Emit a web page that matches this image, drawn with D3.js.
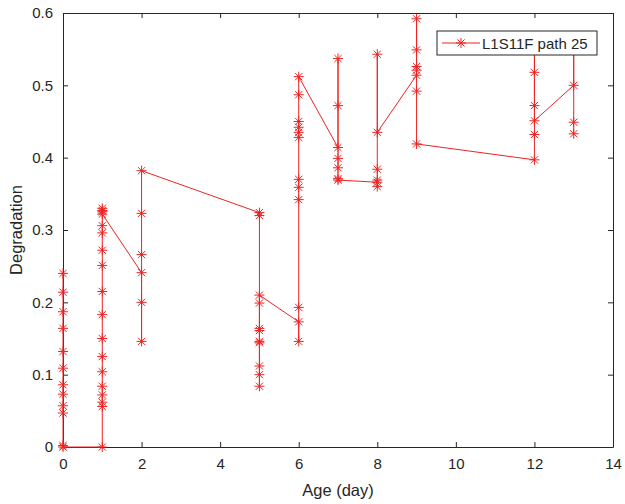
<!DOCTYPE html>
<html>
<head>
  <meta charset="utf-8">
  <title>L1S11F path 25</title>
  <script src="https://d3js.org/d3.v7.min.js"></script>
  <style>
    body { margin: 0; background: #fff; }
    text { font-family: "Liberation Sans", Arial, sans-serif; fill: #262626; }
  </style>
</head>
<body>
  <div id="chart"></div>
  <script>
    // measured points, in the order the path visits them
    var ageDays = [
      0, 0, 0, 0, 0, 0, 0, 0, 0, 0, 0, 0,
      1, 1, 1, 1, 1, 1, 1, 1, 1, 1, 1, 1, 1, 1, 1, 1, 1, 1,
      2, 2, 2, 2, 2, 2,
      5, 5, 5, 5, 5, 5, 5, 5, 5, 5, 5,
      6, 6, 6, 6, 6, 6, 6, 6, 6, 6, 6, 6,
      7, 7, 7, 7, 7, 7, 7,
      8, 8, 8, 8, 8, 8,
      9, 9, 9, 9, 9, 9, 9,
      12, 12, 12, 12, 12, 12,
      13, 13, 13, 13
    ];
    var degradation = [
      0.240, 0.214, 0.187, 0.164, 0.132, 0.109, 0.086, 0.073, 0.057, 0.047, 0.002, 0,
      0, 0.056, 0.062, 0.072, 0.084, 0.104, 0.125, 0.150, 0.183, 0.215, 0.251, 0.272, 0.296, 0.306, 0.330, 0.327, 0.325, 0.322,
      0.241, 0.146, 0.200, 0.266, 0.323, 0.382,
      0.324, 0.320, 0.084, 0.100, 0.112, 0.144, 0.146, 0.161, 0.164, 0.199, 0.210,
      0.173, 0.146, 0.193, 0.342, 0.359, 0.370, 0.428, 0.435, 0.442, 0.450, 0.487, 0.512,
      0.414, 0.537, 0.472, 0.399, 0.386, 0.371, 0.369,
      0.366, 0.360, 0.369, 0.384, 0.543, 0.435,
      0.514, 0.521, 0.526, 0.549, 0.592, 0.492, 0.419,
      0.397, 0.432, 0.472, 0.518, 0.555, 0.451,
      0.500, 0.555, 0.449, 0.433
    ];
    var xTicks = [0, 2, 4, 6, 8, 10, 12, 14];
    var yTicks = [0, 0.1, 0.2, 0.3, 0.4, 0.5, 0.6];
    var seriesName = "L1S11F path 25";

    var width = 625, height = 504;
    var plotLeft = 63, plotRight = 613, plotTop = 13, plotBottom = 447;
    var red = "#ec2424", axisColor = "#262626";

    var svg = d3.select("#chart").append("svg")
      .attr("width", width)
      .attr("height", height);

    var x = d3.scaleLinear().domain([0, 14]).range([plotLeft, plotRight]);
    var y = d3.scaleLinear().domain([0, 0.6]).range([plotBottom, plotTop]);

    // axes, ticks pointing inward like matlab
    svg.append("g")
      .attr("transform", "translate(0," + plotBottom + ")")
      .call(d3.axisBottom(x).tickValues(xTicks).tickSizeInner(-5).tickSizeOuter(0).tickPadding(11))
      .call(styleAxis);
    svg.append("g")
      .attr("transform", "translate(0," + plotTop + ")")
      .call(d3.axisTop(x).tickValues(xTicks).tickSizeInner(-5).tickSizeOuter(0).tickFormat(""))
      .call(styleAxis);
    svg.append("g")
      .attr("transform", "translate(" + plotLeft + ",0)")
      .call(d3.axisLeft(y).tickValues(yTicks).tickSizeInner(-5).tickSizeOuter(0).tickPadding(10)
        .tickFormat(function (d) { return d === 0 ? "0" : d3.format(".1f")(d); }))
      .call(styleAxis);
    svg.append("g")
      .attr("transform", "translate(" + plotRight + ",0)")
      .call(d3.axisRight(y).tickValues(yTicks).tickSizeInner(-5).tickSizeOuter(0).tickFormat(""))
      .call(styleAxis);

    function styleAxis(g) {
      g.select(".domain").attr("stroke", axisColor).attr("stroke-width", 1);
      g.selectAll(".tick line").attr("stroke", axisColor).attr("stroke-width", 1);
      g.selectAll(".tick text")
        .style("font-family", "'Liberation Sans', Arial, sans-serif")
        .style("font-size", "15px")
        .attr("fill", axisColor);
    }

    // axis titles
    svg.append("text")
      .attr("x", (plotLeft + plotRight) / 2)
      .attr("y", 496)
      .attr("text-anchor", "middle")
      .style("font-size", "16.5px")
      .text("Age (day)");
    svg.append("text")
      .attr("transform", "translate(22," + ((plotTop + plotBottom) / 2) + ") rotate(-90)")
      .attr("text-anchor", "middle")
      .style("font-size", "16.5px")
      .text("Degradation");

    var points = ageDays.map(function (d, i) { return [d, degradation[i]]; });

    var line = d3.line()
      .x(function (d) { return x(d[0]); })
      .y(function (d) { return y(d[1]); });

    svg.append("path")
      .datum(points)
      .attr("fill", "none")
      .attr("stroke", red)
      .attr("stroke-width", 1)
      .attr("d", line);

    // asterisk marker: + and x overlaid
    function asterisk(g) {
      g.append("line").attr("x1", -5).attr("x2", 5).attr("y1", 0).attr("y2", 0);
      g.append("line").attr("x1", 0).attr("x2", 0).attr("y1", -5).attr("y2", 5);
      g.append("line").attr("x1", -3.6).attr("x2", 3.6).attr("y1", -3.6).attr("y2", 3.6);
      g.append("line").attr("x1", -3.6).attr("x2", 3.6).attr("y1", 3.6).attr("y2", -3.6);
    }

    svg.append("g")
      .attr("stroke", red)
      .attr("stroke-width", 1)
      .selectAll("g")
      .data(points)
      .enter()
      .append("g")
      .attr("transform", function (d) { return "translate(" + x(d[0]) + "," + y(d[1]) + ")"; })
      .each(function () { asterisk(d3.select(this)); });

    // legend
    var legend = svg.append("g").attr("transform", "translate(437,31)");
    legend.append("rect")
      .attr("width", 160)
      .attr("height", 24)
      .attr("fill", "#fff")
      .attr("stroke", axisColor)
      .attr("stroke-width", 1);
    legend.append("line")
      .attr("x1", 5).attr("x2", 43)
      .attr("y1", 12).attr("y2", 12)
      .attr("stroke", red);
    legend.append("g")
      .attr("transform", "translate(24,12)")
      .attr("stroke", red)
      .call(asterisk);
    legend.append("text")
      .attr("x", 45)
      .attr("y", 17.5)
      .style("font-size", "15px")
      .text(seriesName);
  </script>
</body>
</html>
